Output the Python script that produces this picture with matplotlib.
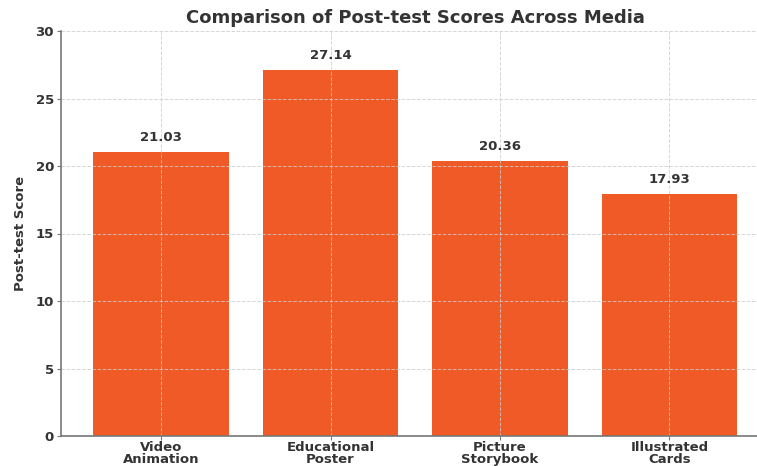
import matplotlib
matplotlib.use("Agg")
import matplotlib.pyplot as plt

categories = ["Video\nAnimation", "Educational\nPoster", "Picture\nStorybook", "Illustrated\nCards"]
scores = [21.03, 27.14, 20.36, 17.93]
yticks = [0, 5, 10, 15, 20, 25, 30]

fig = plt.figure(figsize=(7.57, 4.66), dpi=100)
ax = fig.add_axes([61/757, 30/466, 708.5/757, 405/466])

bars = ax.bar(range(len(categories)), scores, width=0.8, color="#F05A26")
ax.set_ylim(0, 30)
ax.set_xlim(-0.59, 3.59)
ax.set_yticks(yticks)
ax.set_xticks(range(len(categories)))
ax.set_xticklabels(categories, fontweight="bold", fontsize=9.5, color="#333333", linespacing=0.95)
for lab in ax.get_yticklabels():
    lab.set_fontweight("bold"); lab.set_fontsize(9.5); lab.set_color("#333333")

ax.grid(True, linestyle="--", color="#cccccc", linewidth=0.7, alpha=0.8)
ax.set_axisbelow("line")
for s in ["top", "right"]:
    ax.spines[s].set_visible(False)
for s in ["left", "bottom"]:
    ax.spines[s].set_color("#777777")
    ax.spines[s].set_linewidth(1.2)
ax.tick_params(colors="#777777", labelcolor="#333333", length=3)
ax.tick_params(axis="x", pad=0.5)
ax.tick_params(axis="y", pad=2)

for i, v in enumerate(scores):
    ax.text(i, v + 0.6, f"{v:.2f}", ha="center", va="bottom", fontsize=9.5, fontweight="bold", color="#333333")

ax.set_ylabel("Post-test Score", fontsize=9.5, fontweight="bold", color="#333333", labelpad=6)
ax.set_title("Comparison of Post-test Scores Across Media", fontsize=13, fontweight="bold", color="#333333", pad=6)

fig.savefig("out.png", dpi=100)
